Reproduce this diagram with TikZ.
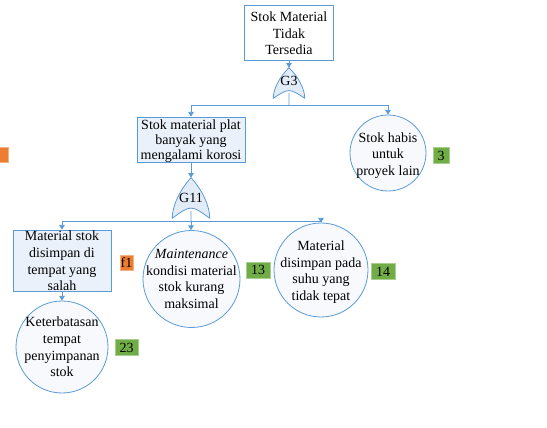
\documentclass[tikz,border=0pt]{standalone}
\usepackage{fontspec}
\setmainfont{Liberation Serif}
\usepackage{tikz}
\usetikzlibrary{arrows.meta,calc}
\definecolor{lineblue}{RGB}{91,155,213}
\definecolor{boxfill}{RGB}{234,241,250}
\definecolor{circfill}{RGB}{247,249,253}
\definecolor{gatefill}{RGB}{226,236,247}
\definecolor{tgreen}{RGB}{112,173,71}
\definecolor{torange}{RGB}{237,125,49}
\newcommand{\evtfont}{\fontsize{10.5}{12.4}\selectfont}
\tikzset{
  evt/.style={draw=lineblue,line width=0.6pt,fill=boxfill,inner sep=0pt},
  basic/.style={circle,draw=lineblue,line width=0.6pt,fill=circfill,inner sep=0pt},
  txt/.style={font=\evtfont,align=center,inner sep=0pt},
  gate/.style={minimum width=#1,inner sep=0pt,font=\evtfont},
  link/.style={draw=lineblue,line width=0.6pt},
  arr/.style={link,-{Triangle[length=3.5pt,width=4.2pt]}},
  tagg/.style={fill=tgreen,draw=tgreen!60!white,line width=0.5pt,font=\evtfont,inner sep=0pt,minimum height=12pt},
  tago/.style={fill=torange,draw=torange!60!white,line width=0.5pt,font=\evtfont,inner sep=0pt,minimum height=11.5pt},
}
% OR gate drawn over a plain node
\newcommand{\orgate}[1]{%
  \draw[link,fill=gatefill] (#1.north)
    .. controls ($(#1.north)!0.6!(#1.east)$) and ($(#1.east)!0.4!(#1.south east)$) .. (#1.south east)
    .. controls ($(#1.south)!0.67!(#1.center)$) .. (#1.south west)
    .. controls ($(#1.west)!0.4!(#1.south west)$) and ($(#1.north)!0.6!(#1.west)$) .. (#1.north) -- cycle;
  \coordinate (#1-out) at ($(#1.south)!0.35!(#1.center)$);
}

\begin{document}
\begin{tikzpicture}[x=0.75pt,y=-0.75pt]
\useasboundingbox (0,0) rectangle (547,428);

% events (shapes)
\node[evt,fill=white,minimum width=66.75pt,minimum height=41.25pt] (top) at (289,32.5) {};
\node[evt,minimum width=81pt,minimum height=33.75pt] (plat) at (191,139.5) {};
\node[basic,minimum size=57pt] (habis) at (388,153) {};
\node[evt,minimum width=73.5pt,minimum height=45.75pt] (salah) at (62,260.5) {};
\node[basic,minimum size=72.75pt] (maint) at (191.5,279) {};
\node[basic,minimum size=70.5pt] (suhu) at (321,270) {};
\node[basic,minimum size=69pt] (batas) at (62,347) {};

% events (texts)
\node[txt] (top-t) at (289,33.5) {Stok Material\\Tidak\\Tersedia};
\node[txt,font=\fontsize{10.5}{11.3}\selectfont] (plat-t) at (191,141) {Stok material plat\\banyak yang\\mengalami korosi};
\node[txt] (habis-t) at (388,155.5) {Stok habis\\untuk\\proyek lain};
\node[txt] (salah-t) at (62,261) {Material stok\\disimpan di\\tempat yang\\salah};
\node[txt] (maint-t) at (191.5,279) {\textit{Maintenance}\\kondisi material\\stok kurang\\maksimal};
\node[txt] (suhu-t) at (321,272) {Material\\disimpan pada\\suhu yang\\tidak tepat};
\node[txt] (batas-t) at (62,347) {Keterbatasan\\tempat\\penyimpanan\\stok};

% gates
\node[gate=23.25pt,minimum height=22.5pt] (g3) at (289,83) {};
\orgate{g3}
\node[font=\evtfont] (g3lbl) at (289,81) {G3};
\node[gate=27.75pt,minimum height=30pt] (g11) at (191,198) {};
\orgate{g11}
\node[font=\evtfont] (g11lbl) at (191,198) {G11};

% tags
\node[tago,minimum width=12pt] (tcut) at (0,155) {};
\node[tago,minimum width=10pt] (tf1) at (126.5,262.5) {f1};
\node[tagg,minimum width=18pt] (t13) at (258,270) {13};
\node[tagg,minimum width=18pt] (t14) at (383,271.5) {14};
\node[tagg,minimum width=12pt] (t3) at (441,155.5) {3};
\node[tagg,minimum width=17pt] (t23) at (126.5,347.5) {23};

% connectors
\coordinate (bar3) at (289,105);
\coordinate (bar11) at (191,221);
\draw[arr] (top) -- (g3);
\draw[link] (g3-out) -- (bar3);
\draw[arr] (bar3) -| (plat.north);
\draw[arr] (bar3) -| (habis.north);
\draw[arr] (plat) -- (g11);
\draw[link] (g11-out) -- (bar11);
\draw[arr] (bar11) -| (salah.north);
\draw[arr] (bar11) -- (bar11 |- maint.north);
\draw[arr] (bar11) -| (suhu.north);
\draw[arr] (salah) -- (batas);
\end{tikzpicture}
\end{document}
